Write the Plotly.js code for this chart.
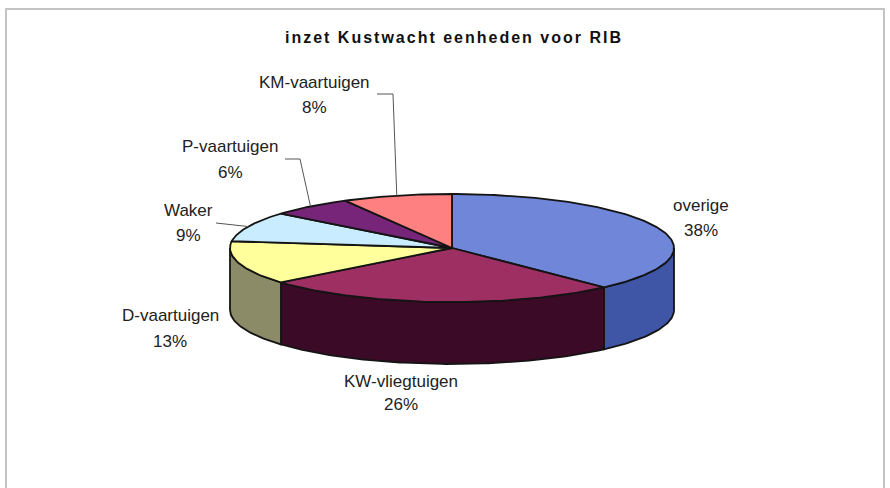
<!DOCTYPE html>
<html><head><meta charset="utf-8">
<script src="https://cdn.plot.ly/plotly-3.0.1.min.js"></script>
<style>
body{margin:0;background:#fff}
#chart{width:890px;height:488px}
.gtitle{letter-spacing:2px}
</style>
</head><body><div id="chart"></div>
<script>
// ---- data ----
const labels = ['overige','KW-vliegtuigen','D-vaartuigen','Waker','P-vaartuigen','KM-vaartuigen'];
const values = [38, 26, 13, 9, 6, 8];
const topColors  = ['#6f86d9','#9e2f63','#ffff9c','#c9ecff','#772578','#ff8080'];
const sideColors = ['#3f56a6','#3b0a27','#8b8b68','#7e98a8','#3c0f3e','#a85050'];
const titleText = 'inzet Kustwacht eenheden voor RIB';

// ---- layout geometry (pixels) ----
const CX = 452, CY = 248, RX = 222, RY = 54, DEPTH = 62;
const labelLayout = [
  {x:701, y1:205, y2:230},
  {x:401, y1:381, y2:404},
  {x:170, y1:315, y2:341},
  {x:188, y1:210, y2:235},
  {x:230, y1:146, y2:172},
  {x:314, y1:82,  y2:107}
];
const leaderStarts = {5: [[377,94],[393,94]], 4: [[285,159],[300,159]], 3: [[216,223]]};

const total = values.reduce((a,b)=>a+b,0);
const rad = t => t*Math.PI/180;
const px = t => CX + RX*Math.sin(rad(t));
const py = t => CY - RY*Math.cos(rad(t));
const starts = [], ends = [];
let cum = 0;
values.forEach(v => { starts.push(cum/total*360); cum += v; ends.push(cum/total*360); });

function arc(a,b){
  const xs=[], ys=[];
  const n = Math.max(2, Math.ceil((b-a)/1));
  for(let i=0;i<=n;i++){ const t=a+(b-a)*i/n; xs.push(px(t)); ys.push(py(t)); }
  return [xs,ys];
}
const edge = '#141414';
const traces = [];
// side walls (front half only)
labels.forEach((l,i)=>{
  const a = Math.max(starts[i],90), b = Math.min(ends[i],270);
  if(b>a){
    const [xs,ys] = arc(a,b);
    const xb = xs.slice().reverse(), yb = ys.slice().reverse().map(y=>y+DEPTH);
    traces.push({type:'scatter',mode:'lines',x:xs.concat(xb,[xs[0]]),y:ys.concat(yb,[ys[0]]),
      fill:'toself',fillcolor:sideColors[i],line:{color:edge,width:1.8},hoverinfo:'skip',showlegend:false,name:l});
  }
});
// top faces
labels.forEach((l,i)=>{
  const [xs,ys] = arc(starts[i],ends[i]);
  traces.push({type:'scatter',mode:'lines',x:[CX].concat(xs,[CX]),y:[CY].concat(ys,[CY]),
    fill:'toself',fillcolor:topColors[i],line:{color:edge,width:1.8},hoverinfo:'skip',showlegend:false,name:l});
});
// leader lines
Object.keys(leaderStarts).forEach(k=>{
  const i = +k, mid = (starts[i]+ends[i])/2;
  const pts = leaderStarts[k].concat([[px(mid),py(mid)]]);
  traces.push({type:'scatter',mode:'lines',x:pts.map(p=>p[0]),y:pts.map(p=>p[1]),
    line:{color:'#555',width:1},hoverinfo:'skip',showlegend:false});
});

const font = {family:'Liberation Sans, Arial, sans-serif', size:17, color:'#222'};
const annotations = [];
labels.forEach((l,i)=>{
  const L = labelLayout[i];
  annotations.push({x:L.x,y:L.y1,xref:'x',yref:'y',text:l,showarrow:false,font:font,xanchor:'center',yanchor:'middle'});
  annotations.push({x:L.x,y:L.y2,xref:'x',yref:'y',text:Math.round(values[i]/total*100)+'%',showarrow:false,font:font,xanchor:'center',yanchor:'middle'});
});

const layout = {
  width:890, height:488, margin:{l:0,r:0,t:0,b:0},
  paper_bgcolor:'#fff', plot_bgcolor:'#fff', showlegend:false,
  title:{text:titleText, x:454/890, xanchor:'center', y:1-37/488, yanchor:'middle', yref:'container',
    font:{family:'Liberation Sans, Arial, sans-serif', size:16, color:'#111', weight:'bold'}},
  xaxis:{range:[0,890], visible:false, fixedrange:true},
  yaxis:{range:[488,0], visible:false, fixedrange:true},
  annotations:annotations,
  shapes:[{type:'rect',xref:'x',yref:'y',x0:6,y0:9,x1:884,y1:520,line:{color:'#c4c4c4',width:2},fillcolor:'rgba(0,0,0,0)'}],
  hovermode:false
};
Plotly.newPlot('chart', traces, layout, {staticPlot:true, displayModeBar:false});
</script>
</body></html>
